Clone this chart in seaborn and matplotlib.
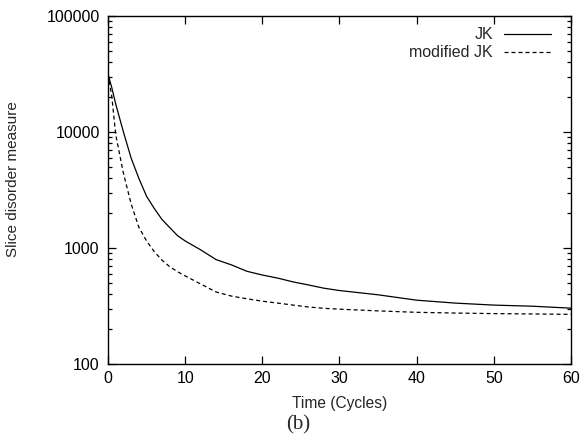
import numpy as np
import pandas as pd
import matplotlib
matplotlib.use("Agg")
import matplotlib.pyplot as plt
import matplotlib.ticker as mticker
import seaborn as sns

# valores
cycles = [0, 0.5, 1, 2, 3, 4, 5, 6, 7, 8, 9, 10, 12, 14, 16, 18, 20, 22, 24,
          26, 28, 30, 35, 40, 45, 50, 55, 60]
jk = [31600, 24000, 17400, 10000, 5950, 3980, 2790, 2190, 1760, 1500, 1280,
      1150, 965, 795, 715, 630, 585, 550, 510, 480, 450, 430, 395, 355, 335,
      322, 315, 303]
jk_mod = [31600, 20000, 9500, 4400, 2400, 1510, 1150, 930, 785, 690, 625,
          575, 490, 418, 385, 365, 348, 335, 322, 310, 302, 297, 287, 279,
          275, 272, 270, 268]
series_names = ["JK", "modified JK"]

df = pd.DataFrame({
    "Time (Cycles)": cycles * 2,
    "value": jk + jk_mod,
    "serie": [series_names[0]] * len(cycles) + [series_names[1]] * len(cycles),
})

sns.set_style("ticks")
plt.rcParams["font.family"] = ["Liberation Sans", "DejaVu Sans"]

fig = plt.figure(figsize=(5.86, 4.43), dpi=100)
ax = fig.add_axes([0.1843, 0.1783, 0.7901, 0.7856])

sns.lineplot(data=df, x="Time (Cycles)", y="value", style="serie",
             dashes={"JK": "", "modified JK": (3.2, 2.4)},
             color="black", linewidth=0.9, ax=ax)

ax.set_yscale("log")
ax.set_xlim(0, 60)
ax.set_ylim(100, 100000)
ax.set_xticks([0, 10, 20, 30, 40, 50, 60])
ax.yaxis.set_major_locator(mticker.LogLocator(base=10, numticks=10))
ax.yaxis.set_minor_locator(mticker.LogLocator(base=10, subs=np.arange(2, 10), numticks=10))
ax.yaxis.set_major_formatter(mticker.FuncFormatter(lambda v, p: "%d" % v))
ax.yaxis.set_minor_formatter(mticker.NullFormatter())

ax.tick_params(which="both", direction="in", top=True, right=True,
               labelsize=11.5, width=0.9, colors="black")
ax.tick_params(which="major", length=5.5)
ax.tick_params(which="minor", length=3)
ax.tick_params(axis="x", pad=5)
ax.tick_params(axis="y", pad=6)
for s in ax.spines.values():
    s.set_linewidth(1.0)
    s.set_color("black")

ax.set_xlabel("Time (Cycles)", fontsize=11.2, labelpad=7.5)
ax.set_ylabel("Slice disorder measure", fontsize=11)
ax.yaxis.set_label_coords(-0.19, 0.53)

leg = ax.legend(loc="upper right", bbox_to_anchor=(0.98, 1.0), frameon=False,
                markerfirst=False, fontsize=11.5, handlelength=2.9,
                handletextpad=0.7, labelspacing=0.2, borderaxespad=0.3,
                title=None)

fig.text(0.509, 0.04, "(b)", family=["Liberation Serif", "DejaVu Serif"],
         fontsize=15, ha="center", va="center")

fig.savefig("out.png", dpi=100)
